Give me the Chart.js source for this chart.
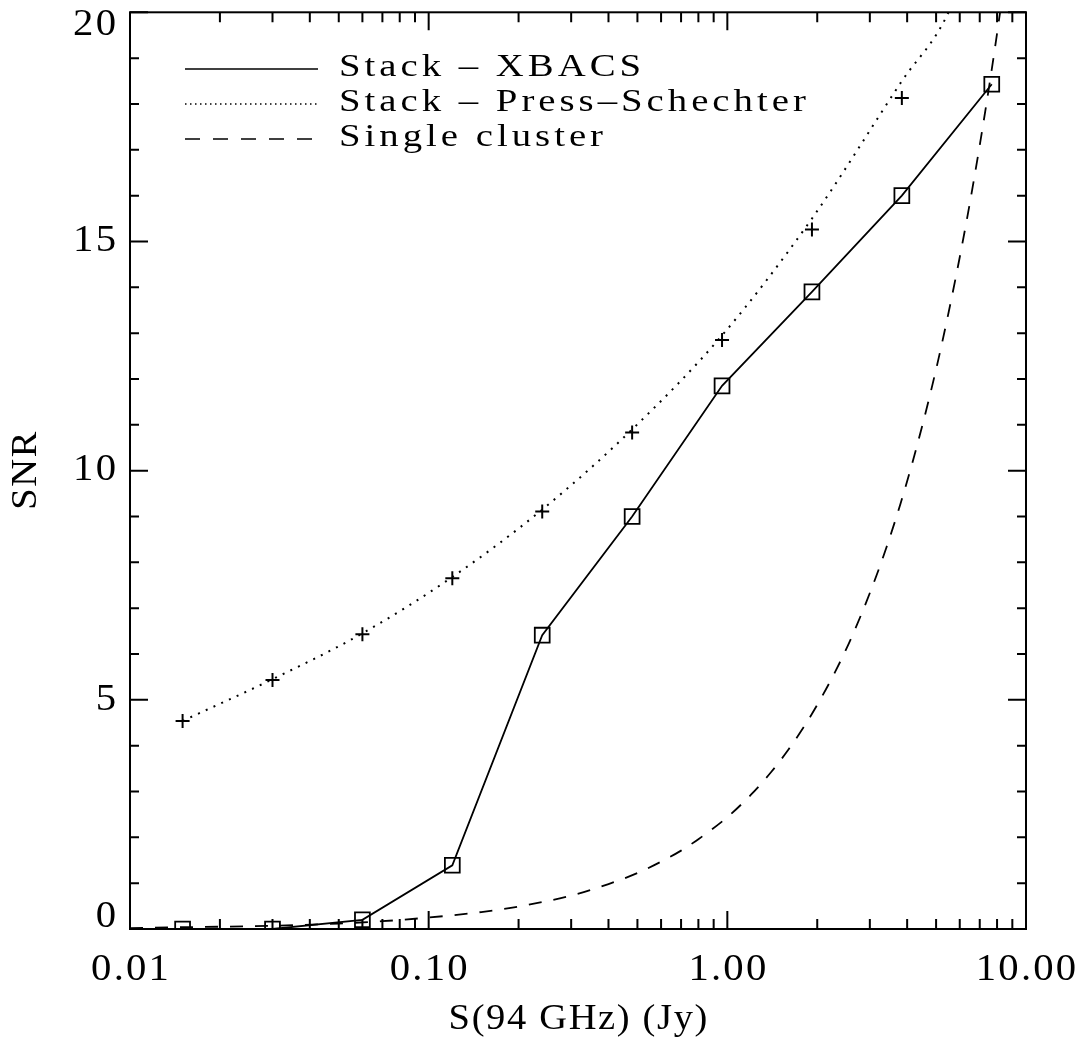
<!DOCTYPE html>
<html>
<head>
<meta charset="utf-8">
<script src="https://cdn.jsdelivr.net/npm/chart.js@4.4.0/dist/chart.umd.min.js"></script>
<style>
  html, body { margin: 0; padding: 0; background: #fff; }
</style>
</head>
<body>
<canvas id="snrChart" width="1087" height="1042"></canvas>
<script>
// flux bins of the stacked points (Jy)
var fluxBins = [0.015, 0.03, 0.06, 0.12, 0.24, 0.48, 0.96, 1.92, 3.84, 7.68];
// stack - XBACS (squares + solid line)
var snrXbacs = [0.0, 0.0, 0.2, 1.39, 6.41, 9.0, 11.85, 13.9, 16.0, 18.43];
// stack - Press-Schechter (plus markers)
var psFlux = [0.015, 0.03, 0.06, 0.12, 0.24, 0.48, 0.96, 1.92, 3.84];
var snrPs = [4.54, 5.43, 6.43, 7.65, 9.11, 10.83, 12.85, 15.26, 18.13];
// smooth dotted curve for Press-Schechter
var psCurveFlux = [0.015, 0.03, 0.06, 0.12, 0.24, 0.48, 0.96, 1.92, 3.84, 5.5, 6.0];
var psCurveSnr = [4.54, 5.45, 6.45, 7.68, 9.15, 10.9, 12.95, 15.5, 18.5, 20.0, 20.7];
// single cluster (dashed)
var singleFlux = [0.01, 0.015, 0.02, 0.03, 0.05, 0.07, 0.1, 0.15, 0.2, 0.3, 0.4, 0.5, 0.6, 0.7, 0.8, 1.0, 1.2, 1.4, 1.6, 1.8, 2.0, 2.3, 2.6, 3.0, 3.4, 3.8, 4.2, 4.7, 5.2, 5.8, 6.4, 7.0, 7.6, 8.2, 8.8];
var singleSnr = [0.02, 0.04, 0.05, 0.07, 0.12, 0.17, 0.25, 0.37, 0.49, 0.73, 0.98, 1.22, 1.47, 1.71, 1.96, 2.44, 2.93, 3.42, 3.91, 4.4, 4.89, 5.62, 6.35, 7.33, 8.3, 9.28, 10.26, 11.48, 12.7, 14.17, 15.63, 17.1, 18.56, 20.03, 21.5];

var xTicks = [0.01, 0.1, 1, 10];
var xTickLabels = ['0.01', '0.10', '1.00', '10.00'];
var yTicks = [0, 5, 10, 15, 20];
var yTickLabels = ['0', '5', '10', '15', '20'];
var legendLabels = ['Stack \u2013 XBACS', 'Stack \u2013 Press\u2013Schechter', 'Single cluster'];
var xTitle = 'S(94 GHz) (Jy)';
var yTitle = 'SNR';

function pts(xs, ys) {
  return xs.map(function (x, i) { return { x: x, y: ys[i] }; });
}

var FONT = '"Liberation Serif", "DejaVu Serif", serif';

// text with a horizontal stretch (the Hershey font is wide)
function wideText(ctx, txt, x, y, align, sx, ls) {
  ctx.save();
  ctx.letterSpacing = ls + 'px';
  var w = ctx.measureText(txt).width - ls;
  var x0 = x;
  if (align === 'center') x0 = x - w * sx / 2;
  else if (align === 'right') x0 = x - w * sx;
  ctx.translate(x0, y);
  ctx.scale(sx, 1);
  ctx.textAlign = 'left';
  ctx.fillText(txt, 0, 0);
  ctx.restore();
}

// draws the IDL style box, ticks, labels and legend
var idlAxes = {
  id: 'idlAxes',
  afterDraw: function (chart) {
    var ctx = chart.ctx;
    var a = chart.chartArea;
    var xs = chart.scales.x, ys = chart.scales.y;
    ctx.save();
    ctx.strokeStyle = '#000';
    ctx.fillStyle = '#000';
    ctx.lineWidth = 2;
    ctx.setLineDash([]);
    ctx.strokeRect(a.left, a.top, a.right - a.left, a.bottom - a.top);

    ctx.beginPath();
    // x ticks (log, with minor 2..9), bottom and top, pointing inward
    for (var d = 0; d < xTicks.length; d++) {
      var dec = xTicks[d];
      var px = xs.getPixelForValue(dec);
      ctx.moveTo(px, a.bottom); ctx.lineTo(px, a.bottom - 18);
      ctx.moveTo(px, a.top); ctx.lineTo(px, a.top + 18);
      if (d < xTicks.length - 1) {
        for (var m = 2; m <= 9; m++) {
          var mx = xs.getPixelForValue(dec * m);
          ctx.moveTo(mx, a.bottom); ctx.lineTo(mx, a.bottom - 10);
          ctx.moveTo(mx, a.top); ctx.lineTo(mx, a.top + 10);
        }
      }
    }
    // y ticks, left and right
    for (var v = 0; v <= 20; v++) {
      var py = ys.getPixelForValue(v);
      var len = (v % 5 === 0) ? 18 : 9;
      ctx.moveTo(a.left, py); ctx.lineTo(a.left + len, py);
      ctx.moveTo(a.right, py); ctx.lineTo(a.right - len, py);
    }
    ctx.stroke();

    // tick labels
    ctx.font = '37px ' + FONT;
    ctx.textBaseline = 'middle';
    for (var i = 0; i < xTicks.length; i++) {
      wideText(ctx, xTickLabels[i], xs.getPixelForValue(xTicks[i]), 970, 'center', 1.1, 2);
    }
    for (var j = 0; j < yTicks.length; j++) {
      var ty = ys.getPixelForValue(yTicks[j]);
      ty = Math.max(a.top + 13, Math.min(a.bottom - 12, ty));
      wideText(ctx, yTickLabels[j], 116, ty, 'right', 1.1, 2);
    }

    // axis titles
    ctx.font = '35px ' + FONT;
    wideText(ctx, xTitle, (a.left + a.right) / 2, 1020, 'center', 1.1, 1.5);
    ctx.save();
    ctx.translate(27, (a.top + a.bottom) / 2);
    ctx.rotate(-Math.PI / 2);
    wideText(ctx, yTitle, 0, 0, 'center', 1.1, 1.5);
    ctx.restore();

    // legend
    var dashes = [[], [1.5, 3.5], [15, 13]];
    ctx.font = '31px ' + FONT;
    for (var k = 0; k < legendLabels.length; k++) {
      var ly = 69 + k * 35;
      ctx.beginPath();
      ctx.lineWidth = 1.6;
      ctx.setLineDash(dashes[k]);
      ctx.moveTo(185, ly); ctx.lineTo(318, ly);
      ctx.stroke();
      wideText(ctx, legendLabels[k], 339, ly - 1, 'left', 1.25, 3.2);
    }
    ctx.restore();
  }
};

document.addEventListener('DOMContentLoaded', function () {
  var ctx = document.getElementById('snrChart').getContext('2d');
  new Chart(ctx, {
    type: 'scatter',
    data: {
      datasets: [
        {
          label: legendLabels[2],
          data: pts(singleFlux, singleSnr),
          showLine: true,
          borderColor: '#000',
          borderWidth: 1.8,
          borderDash: [13, 12],
          pointRadius: 0,
          cubicInterpolationMode: 'monotone'
        },
        {
          label: legendLabels[1],
          data: pts(psCurveFlux, psCurveSnr),
          showLine: true,
          borderColor: '#000',
          borderWidth: 2,
          borderDash: [2, 6.5],
          pointRadius: 0,
          cubicInterpolationMode: 'monotone'
        },
        {
          label: 'Press-Schechter points',
          data: pts(psFlux, snrPs),
          showLine: false,
          pointStyle: 'cross',
          pointRadius: 7,
          pointBorderWidth: 2,
          pointBorderColor: '#000'
        },
        {
          label: legendLabels[0],
          data: pts(fluxBins, snrXbacs),
          showLine: true,
          borderColor: '#000',
          borderWidth: 1.8,
          pointStyle: 'rect',
          pointRadius: 10.5,
          pointBorderWidth: 1.8,
          pointBorderColor: '#000',
          pointBackgroundColor: 'rgba(0,0,0,0)'
        }
      ]
    },
    options: {
      responsive: false,
      animation: false,
      devicePixelRatio: 1,
      layout: { padding: { left: 130, top: 7, right: 61, bottom: 113 } },
      scales: {
        x: { type: 'logarithmic', min: 0.01, max: 10, display: false },
        y: { type: 'linear', min: 0, max: 20, display: false }
      },
      plugins: {
        legend: { display: false },
        tooltip: { enabled: false }
      }
    },
    plugins: [idlAxes]
  });
});
</script>
</body>
</html>
